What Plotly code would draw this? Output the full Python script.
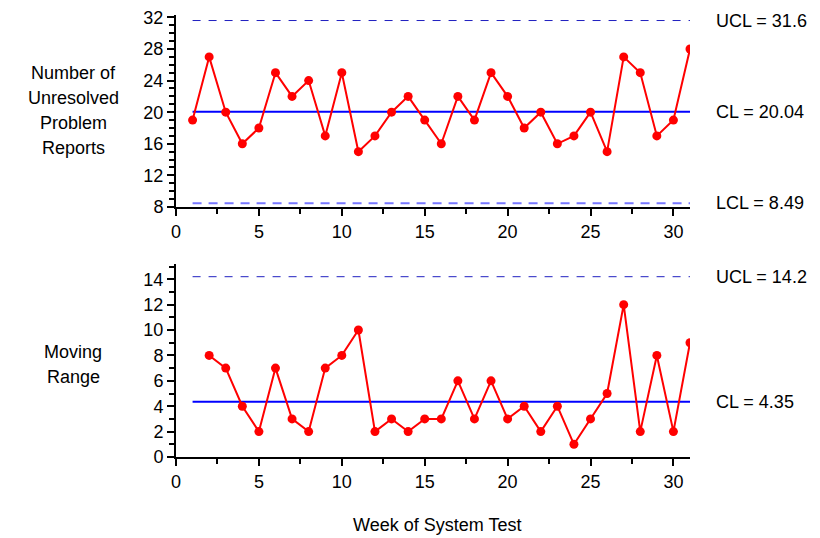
import plotly.graph_objects as go

weeks = list(range(1, 32))
problems = [19, 27, 20, 16, 18, 25, 22, 24, 17, 25, 15, 17, 20, 22, 19, 16,
            22, 19, 25, 22, 18, 20, 16, 17, 20, 15, 27, 25, 17, 19, 28]
mr_weeks = list(range(2, 32))
moving_range = [8, 7, 4, 2, 7, 3, 2, 7, 8, 10, 2, 3, 2, 3, 3, 6, 3, 6, 3, 4,
                2, 4, 1, 3, 5, 12, 2, 8, 2, 9]

x_ucl, x_cl, x_lcl = 31.6, 20.04, 8.49
mr_ucl, mr_cl = 14.2, 4.35

FONT = "Arial, 'Liberation Sans', sans-serif"
FS = 18
OFF = 8  # page body margin
W, H = 820 - OFF, 538 - OFF
# screen-pixel positions of the plot area
SL, SR, ST, SB = 176, 690, 15, 457
L, T = SL - OFF, ST - OFF
R = W - (SR - OFF)
B = H - (SB - OFF)
ph = H - T - B
pw = W - L - R

def py(spix):
    return (SB - spix) / ph

def px(spix):
    return (spix - SL) / pw

fig = go.Figure()

xs = [1, 31]
fig.add_trace(go.Scatter(x=xs, y=[x_ucl, x_ucl], mode="lines",
                         line=dict(color="#2020c0", width=1, dash="8px,8px"),
                         xaxis="x", yaxis="y", hoverinfo="skip"))
fig.add_trace(go.Scatter(x=xs, y=[x_lcl, x_lcl], mode="lines",
                         line=dict(color="#7777ff", width=2, dash="9px,7px"),
                         xaxis="x", yaxis="y", hoverinfo="skip"))
fig.add_trace(go.Scatter(x=xs, y=[x_cl, x_cl], mode="lines",
                         line=dict(color="#0000ff", width=2),
                         xaxis="x", yaxis="y", hoverinfo="skip"))
fig.add_trace(go.Scatter(x=weeks, y=problems, mode="lines+markers",
                         line=dict(color="#ff0000", width=2),
                         marker=dict(color="#ff0000", size=9),
                         xaxis="x", yaxis="y"))

fig.add_trace(go.Scatter(x=xs, y=[mr_ucl, mr_ucl], mode="lines",
                         line=dict(color="#2020c0", width=1, dash="8px,8px"),
                         xaxis="x2", yaxis="y2", hoverinfo="skip"))
fig.add_trace(go.Scatter(x=xs, y=[mr_cl, mr_cl], mode="lines",
                         line=dict(color="#0000ff", width=2),
                         xaxis="x2", yaxis="y2", hoverinfo="skip"))
fig.add_trace(go.Scatter(x=mr_weeks, y=moving_range, mode="lines+markers",
                         line=dict(color="#ff0000", width=2),
                         marker=dict(color="#ff0000", size=9),
                         xaxis="x2", yaxis="y2"))

tickfont = dict(family=FONT, size=FS, color="black")
xaxis_common = dict(range=[0, 31], tick0=0, dtick=5, showline=True,
                    linecolor="black", linewidth=2, ticks="outside",
                    ticklen=7, tickwidth=2, tickcolor="black",
                    showgrid=False, zeroline=False, tickfont=tickfont,
                    ticklabeloverflow="allow",
                    minor=dict(tick0=0, dtick=2.5, ticks="outside", ticklen=5,
                               tickwidth=2, tickcolor="black", showgrid=False))

fig.update_layout(
    width=W, height=H,
    margin=dict(l=L, r=R, t=T, b=B, autoexpand=False),
    paper_bgcolor="white", plot_bgcolor="white",
    showlegend=False,
    font=dict(family=FONT, size=FS, color="black"),
    xaxis=dict(domain=[0, 1], anchor="y", **xaxis_common),
    xaxis2=dict(domain=[0, 1], anchor="y2", **xaxis_common),
    yaxis=dict(domain=[py(207), 1], anchor="x", range=[8, 32.3],
               tick0=8, dtick=4, showline=True, linecolor="black", linewidth=2,
               ticks="outside", ticklen=7, tickwidth=2, tickcolor="black",
               showgrid=False, zeroline=False, tickfont=tickfont,
               ticklabeloverflow="allow",
               minor=dict(tick0=8, dtick=1, ticks="outside", ticklen=5,
                          tickwidth=2, tickcolor="black", showgrid=False)),
    yaxis2=dict(domain=[0, py(264)], anchor="x2", range=[0, 15.2],
                tick0=0, dtick=2, showline=True, linecolor="black", linewidth=2,
                ticks="outside", ticklen=7, tickwidth=2, tickcolor="black",
                showgrid=False, zeroline=False, tickfont=tickfont,
                ticklabeloverflow="allow",
                minor=dict(tick0=0, dtick=1, ticks="outside", ticklen=5,
                           tickwidth=2, tickcolor="black", showgrid=False)),
)

ann = []
for yref, val, label in [("y", x_ucl, "UCL = 31.6"), ("y", x_cl, "CL = 20.04"),
                         ("y", x_lcl, "LCL = 8.49"), ("y2", mr_ucl, "UCL = 14.2"),
                         ("y2", mr_cl, "CL = 4.35")]:
    ann.append(dict(text=label, xref="paper", x=px(714), xanchor="left",
                    yref=yref, y=val, yanchor="middle", showarrow=False,
                    font=dict(family=FONT, size=FS, color="black")))

for text, spix in [("Number of", 73), ("Unresolved", 98), ("Problem", 123),
                   ("Reports", 148), ("Moving", 352), ("Range", 377)]:
    ann.append(dict(text=text, xref="paper", x=px(73), xanchor="center",
                    yref="paper", y=py(spix), yanchor="middle", showarrow=False,
                    font=dict(family=FONT, size=FS, color="black")))

ann.append(dict(text="Week of System Test", xref="paper", x=px(437),
                xanchor="center", yref="paper", y=py(525), yanchor="middle",
                showarrow=False, font=dict(family=FONT, size=FS, color="black")))

fig.update_layout(annotations=ann)

fig.write_html("out.html")
